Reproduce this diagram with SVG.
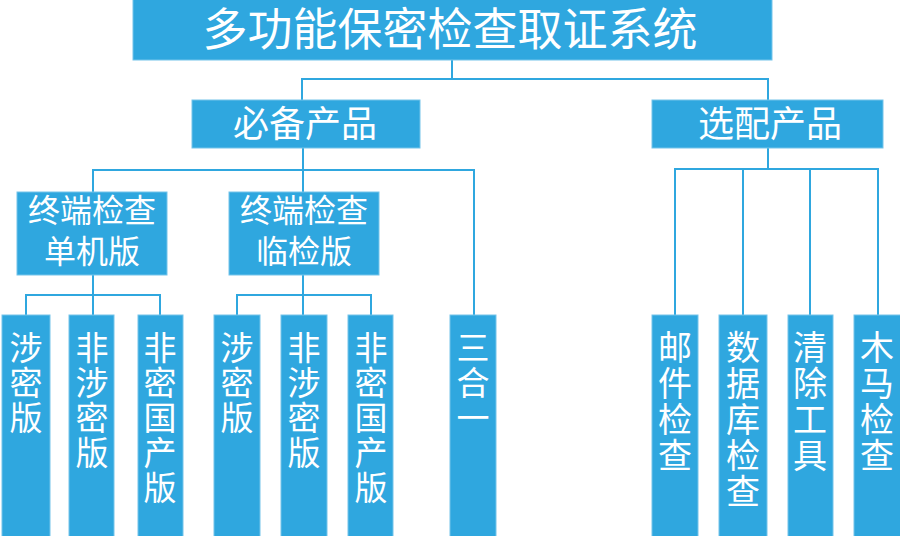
<svg xmlns="http://www.w3.org/2000/svg" width="900" height="536" viewBox="0 0 900 536">
<style>
.box{fill:#2fa7df;stroke:#74c4ea;stroke-width:1}
.t{fill:#ffffff;font-family:"Noto Sans CJK SC","Noto Sans",sans-serif;text-anchor:middle}
.c{fill:none;stroke:#2fa7df;stroke-width:2}
</style>
<rect width="900" height="536" fill="#ffffff"/>
<g id="connectors">
<path class="c" d="M452,60V79M302,100V79H768V100"/>
<path class="c" d="M303,148V170M93,192V170H474V315M303,170V192"/>
<path class="c" d="M93,275V295M26,315V295H160V315M93,295V315"/>
<path class="c" d="M303,275V295M237,315V295H371V315M303,295V315"/>
<path class="c" d="M768,148V169M675,315V169H878V315M743,169V315M810,169V315"/>
</g>
<g id="root"><rect class="box" x="133" y="-1" width="639" height="61"/><text class="t" x="450" y="46" font-size="45">多功能保密检查取证系统</text></g>
<g id="bibei"><rect class="box" x="192" y="100" width="228" height="48"/><text class="t" x="305" y="137" font-size="36">必备产品</text></g>
<g id="xuanpei"><rect class="box" x="652" y="100" width="231" height="48"/><text class="t" x="770" y="137" font-size="36">选配产品</text></g>
<g id="danjiban"><rect class="box" x="17" y="192" width="150" height="83"/><text class="t" x="92" y="222" font-size="32">终端检查</text><text class="t" x="92" y="263" font-size="32">单机版</text></g>
<g id="linjianban"><rect class="box" x="229" y="192" width="150" height="83"/><text class="t" x="304" y="222" font-size="32">终端检查</text><text class="t" x="304" y="263" font-size="32">临检版</text></g>
<g id="leaf1"><rect class="box" x="2" y="315" width="48" height="222"/><text class="t" font-size="33"><tspan x="26" y="360">涉</tspan><tspan x="26" dy="35">密</tspan><tspan x="26" dy="35">版</tspan></text></g>
<g id="leaf2"><rect class="box" x="69" y="315" width="45" height="222"/><text class="t" font-size="33"><tspan x="92" y="360">非</tspan><tspan x="92" dy="35">涉</tspan><tspan x="92" dy="35">密</tspan><tspan x="92" dy="35">版</tspan></text></g>
<g id="leaf3"><rect class="box" x="138" y="315" width="45" height="222"/><text class="t" font-size="33"><tspan x="160" y="360">非</tspan><tspan x="160" dy="35">密</tspan><tspan x="160" dy="35">国</tspan><tspan x="160" dy="35">产</tspan><tspan x="160" dy="35">版</tspan></text></g>
<g id="leaf4"><rect class="box" x="214" y="315" width="46" height="222"/><text class="t" font-size="33"><tspan x="237" y="360">涉</tspan><tspan x="237" dy="35">密</tspan><tspan x="237" dy="35">版</tspan></text></g>
<g id="leaf5"><rect class="box" x="281" y="315" width="46" height="222"/><text class="t" font-size="33"><tspan x="304" y="360">非</tspan><tspan x="304" dy="35">涉</tspan><tspan x="304" dy="35">密</tspan><tspan x="304" dy="35">版</tspan></text></g>
<g id="leaf6"><rect class="box" x="348" y="315" width="45" height="222"/><text class="t" font-size="33"><tspan x="371" y="360">非</tspan><tspan x="371" dy="35">密</tspan><tspan x="371" dy="35">国</tspan><tspan x="371" dy="35">产</tspan><tspan x="371" dy="35">版</tspan></text></g>
<g id="sanheyi"><rect class="box" x="450" y="315" width="46" height="222"/><text class="t" font-size="33"><tspan x="473" y="360">三</tspan><tspan x="473" dy="35">合</tspan><tspan x="473" dy="35">一</tspan></text></g>
<g id="youjian"><rect class="box" x="652" y="315" width="46" height="222"/><text class="t" font-size="34"><tspan x="675" y="360">邮</tspan><tspan x="675" dy="36">件</tspan><tspan x="675" dy="36">检</tspan><tspan x="675" dy="36">查</tspan></text></g>
<g id="shujuku"><rect class="box" x="719" y="315" width="48" height="222"/><text class="t" font-size="34"><tspan x="743" y="360">数</tspan><tspan x="743" dy="36">据</tspan><tspan x="743" dy="36">库</tspan><tspan x="743" dy="36">检</tspan><tspan x="743" dy="36">查</tspan></text></g>
<g id="qingchu"><rect class="box" x="788" y="315" width="45" height="222"/><text class="t" font-size="34"><tspan x="810" y="360">清</tspan><tspan x="810" dy="36">除</tspan><tspan x="810" dy="36">工</tspan><tspan x="810" dy="36">具</tspan></text></g>
<g id="muma"><rect class="box" x="854" y="315" width="47" height="222"/><text class="t" font-size="34"><tspan x="877" y="360">木</tspan><tspan x="877" dy="36">马</tspan><tspan x="877" dy="36">检</tspan><tspan x="877" dy="36">查</tspan></text></g>
</svg>
